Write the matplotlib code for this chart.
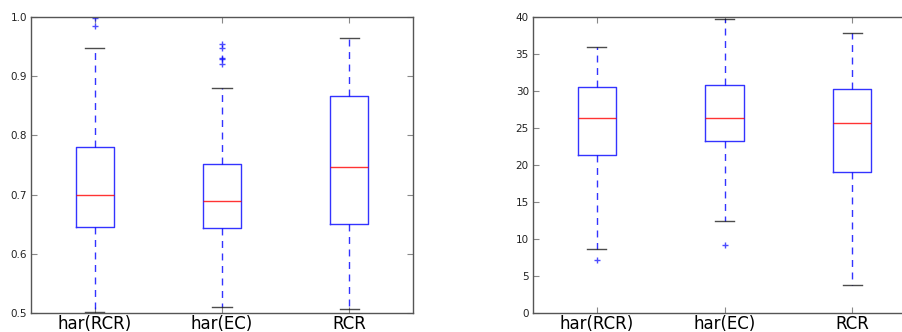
import matplotlib
matplotlib.use("Agg")
import matplotlib.pyplot as plt

categories = ["har(RCR)", "har(EC)", "RCR"]

# left panel (0.5 - 1.0)
left_whislo = [0.501, 0.510, 0.506]
left_q1 = [0.646, 0.644, 0.651]
left_med = [0.700, 0.689, 0.747]
left_q3 = [0.781, 0.752, 0.867]
left_whishi = [0.947, 0.880, 0.964]
left_fliers = [[0.984, 0.998], [0.955, 0.948, 0.931, 0.929, 0.920], []]

# right panel (0 - 40)
right_whislo = [8.7, 12.5, 3.8]
right_q1 = [21.4, 23.2, 19.05]
right_med = [26.4, 26.3, 25.65]
right_q3 = [30.55, 30.75, 30.25]
right_whishi = [36.0, 39.75, 37.9]
right_fliers = [[7.1], [9.2], []]


def make_stats(lo, q1, med, q3, hi, fl):
    return [dict(label=c, whislo=a, q1=b, med=m, q3=d, whishi=e, fliers=f)
            for c, a, b, m, d, e, f in zip(categories, lo, q1, med, q3, hi, fl)]


fig = plt.figure(figsize=(9.02, 3.32), dpi=100)
W, H = 902.0, 332.0
ax1 = fig.add_axes([31 / W, 1 - 313 / H, (413 - 31) / W, (313 - 17) / H])
ax2 = fig.add_axes([533 / W, 1 - 313 / H, (916 - 533) / W, (313 - 17) / H])

panels = [
    (ax1, make_stats(left_whislo, left_q1, left_med, left_q3, left_whishi, left_fliers), (0.5, 1.0),
     [0.5, 0.6, 0.7, 0.8, 0.9, 1.0], ["0.5", "0.6", "0.7", "0.8", "0.9", "1.0"]),
    (ax2, make_stats(right_whislo, right_q1, right_med, right_q3, right_whishi, right_fliers), (0, 40),
     [0, 5, 10, 15, 20, 25, 30, 35, 40], ["0", "5", "10", "15", "20", "25", "30", "35", "40"]),
]

blue = "#0000ff"
for ax, stats, ylim, yt, ytl in panels:
    ax.bxp(stats, positions=[1, 2, 3], widths=0.3, showfliers=True,
           boxprops=dict(color=blue, linewidth=1.0, alpha=0.8),
           medianprops=dict(color="red", linewidth=1.0, alpha=0.8),
           whiskerprops=dict(color=blue, linewidth=1.0, linestyle=(0, (5, 4)), alpha=0.8),
           capprops=dict(color="black", linewidth=1.0, alpha=0.7),
           flierprops=dict(marker="+", markeredgecolor=blue, markersize=5, linestyle="none", alpha=0.7))
    ax.set_xlim(0.5, 3.5)
    ax.set_ylim(*ylim)
    ax.set_yticks(yt)
    ax.set_yticklabels(ytl, fontsize=7.5, color="#222222")
    ax.set_xticks([1, 2, 3])
    ax.set_xticklabels(categories, fontsize=12)
    ax.tick_params(axis="both", direction="in", top=True, right=True, length=4,
                   color="#888888", width=0.8)
    ax.tick_params(axis="x", pad=1.5)
    ax.tick_params(axis="y", pad=3)
    for s in ax.spines.values():
        s.set_color("#555555")
        s.set_linewidth(1.0)

fig.savefig("out.png", dpi=100)
